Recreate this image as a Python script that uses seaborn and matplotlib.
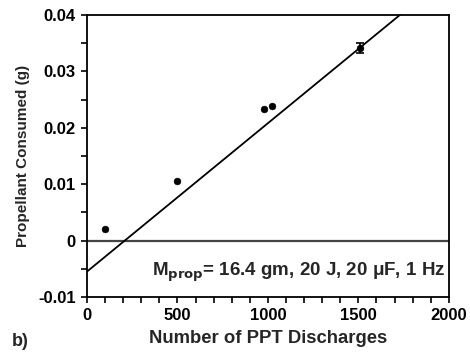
import matplotlib
matplotlib.use("Agg")
import matplotlib.pyplot as plt
import seaborn as sns
import pandas as pd
import numpy as np
from matplotlib.ticker import MultipleLocator

# Data
discharges = [100, 500, 978, 1020, 1510]
consumed = [0.0021, 0.0105, 0.0234, 0.0238, 0.0341]
errors = [0, 0, 0, 0, 0.0009]
line_x = [0, 1730]
line_y = [-0.0055, 0.0400]
x_ticks = [0, 500, 1000, 1500, 2000]
y_ticks = [-0.01, 0, 0.01, 0.02, 0.03, 0.04]
y_tick_labels = ["-0.01", "0", "0.01", "0.02", "0.03", "0.04"]

sns.set_theme(style="white")
plt.rcParams['font.family'] = ['Liberation Sans', 'DejaVu Sans']
plt.rcParams['font.weight'] = 'bold'

df = pd.DataFrame({"n": discharges, "m": consumed})

fig = plt.figure(figsize=(4.7, 3.54), dpi=100)
ax = fig.add_axes([0.185, 0.161, 0.770, 0.797])

ax.axhline(0, color="#444444", lw=1.6, zorder=1)
sns.lineplot(x=line_x, y=line_y, ax=ax, color="black", lw=1.3, zorder=2)
sns.scatterplot(data=df, x="n", y="m", ax=ax, color="black", s=24,
                edgecolor="black", zorder=3)
ax.errorbar([discharges[-1]], [consumed[-1]], yerr=[errors[-1]], fmt="none",
            ecolor="black", capsize=3, lw=1.2, capthick=1.2, zorder=3)

ax.set_xlim(0, 2000)
ax.set_ylim(-0.01, 0.04)
ax.set_xticks(x_ticks)
ax.set_xticklabels([str(v) for v in x_ticks])
ax.set_yticks(y_ticks)
ax.set_yticklabels(y_tick_labels)
ax.xaxis.set_minor_locator(MultipleLocator(100))
ax.yaxis.set_minor_locator(MultipleLocator(0.005))
ax.tick_params(which="both", direction="out", length=4, width=1.2,
               colors="black", labelsize=12, bottom=True, left=True,
               top=False, right=False, pad=4)
for lbl in ax.get_xticklabels() + ax.get_yticklabels():
    lbl.set_fontweight("bold")

for sp in ax.spines.values():
    sp.set_color("black")
    sp.set_linewidth(1.3)

ax.set_xlabel("Number of PPT Discharges", fontsize=13.3, fontweight="bold", labelpad=5)
ax.set_ylabel("Propellant Consumed (g)", fontsize=11, fontweight="bold", labelpad=6)

ax.text(0.99, 0.089, r"M$_{\mathbf{prop}}$= 16.4 gm, 20 J, 20 μF, 1 Hz",
        transform=ax.transAxes, ha="right", va="center", fontsize=13.5,
        fontweight="bold")
fig.text(12/470, 1-341/354, "b)", fontsize=13, fontweight="bold",
         ha="left", va="center")

fig.savefig("out.png", dpi=100)
